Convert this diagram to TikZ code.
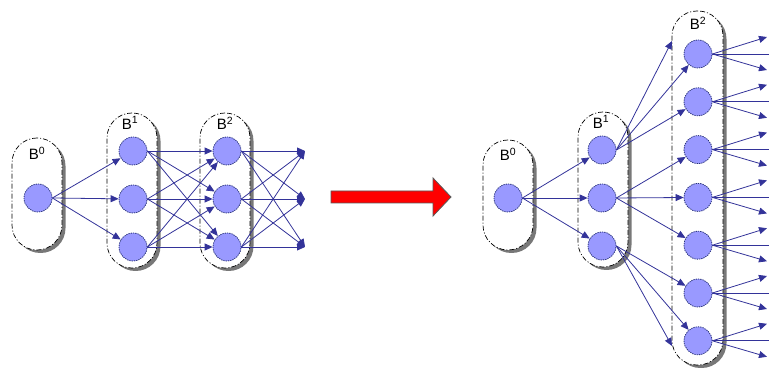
\documentclass[tikz,border=0pt]{standalone}
\usepackage{fontspec}
\setmainfont{Liberation Sans}
\usetikzlibrary{arrows.meta,shadows}
\definecolor{edgeblue}{RGB}{51,51,153}
\definecolor{nodefill}{RGB}{153,153,255}
\definecolor{nodeline}{RGB}{40,50,120}
\definecolor{shadowgray}{RGB}{120,120,120}
\begin{document}
\begin{tikzpicture}[x=1pt,y=-1pt,
  layerbox/.style={draw=black, line width=0.7pt,
    dash pattern=on 5pt off 2pt on 1pt off 2pt,
    fill=white, rounded corners=24.9pt, minimum width=50pt, inner sep=0pt,
    drop shadow={shadow xshift=3.5pt, shadow yshift=-3pt, fill=shadowgray, opacity=1}},
  unit/.style={circle, draw=nodeline, dash pattern=on 1.3pt off 1pt, line width=0.8pt,
    fill=nodefill, minimum size=28pt, inner sep=0pt},
  link/.style={draw=edgeblue, line width=0.8pt, -{Triangle[length=8pt,width=7pt]}},
  lbl/.style={font=\fontsize{15}{15}\selectfont, inner sep=0pt}
]
\useasboundingbox (0,0) rectangle (769,371);
\clip (0,0) rectangle (769,371);

% ---------- left network: three layers ----------
\node[layerbox, minimum height=112pt] (boxA0) at (37,194) {};
\node[layerbox, minimum height=155pt] (boxA1) at (132,190.5) {};
\node[layerbox, minimum height=155pt] (boxA2) at (225,190.5) {};
\node[lbl] (lA0) at (37,153) {B\textsuperscript{0}};
\node[lbl] (lA1) at (130,123) {B\textsuperscript{1}};
\node[lbl] (lA2) at (225,123) {B\textsuperscript{2}};

\node[unit] (A0) at (38,198) {};
\foreach \i/\y in {1/151,2/199,3/247} {
  \node[unit] (A1\i) at (133,\y) {};
  \node[unit] (A2\i) at (227,\y) {};
  \coordinate (Aout\i) at (305,\y);
}
\foreach \i in {1,2,3} {
  \draw[link] (A0.east) -- (A1\i);
  \foreach \j in {1,2,3} {
    \draw[link] (A1\i.east) -- (A2\j);
    \draw[link] (A2\i.east) -- (Aout\j);
  }
}

% ---------- transition arrow ----------
\coordinate (rA) at (331,191);
\coordinate (rB) at (433,191);
\coordinate (rC) at (433,178);
\coordinate (rTip) at (451,197);
\coordinate (rD) at (433,216);
\coordinate (rE) at (433,203);
\coordinate (rF) at (331,203);
\filldraw[fill=red, draw=black!65, line width=0.8pt, line join=miter]
  (rA) -- (rB) -- (rC) -- (rTip) -- (rD) -- (rE) -- (rF) -- cycle;

% ---------- right network: widened second layer ----------
\node[layerbox, minimum height=110pt] (boxB0) at (508,195) {};
\node[layerbox, minimum height=155pt] (boxB1) at (603,189.5) {};
\node[layerbox, minimum width=51pt, minimum height=354pt] (boxB2) at (697.5,188) {};
\node[lbl] (lB0) at (508,154) {B\textsuperscript{0}};
\node[lbl] (lB1) at (601,122) {B\textsuperscript{1}};
\node[lbl] (lB2) at (698,23) {B\textsuperscript{2}};

\node[unit] (B0) at (508,198) {};
\foreach \i/\y in {1/150,2/198,3/246}
  \node[unit] (B1\i) at (602,\y) {};
\foreach \i in {1,...,7} {
  \pgfmathsetmacro{\yy}{54+47.8*(\i-1)}
  \node[unit] (B2\i) at (698,\yy) {};
  \coordinate (BoU\i) at (767,\yy-17);
  \coordinate (BoM\i) at (778,\yy);
  \coordinate (BoD\i) at (767,\yy+16);
}
\coordinate (Btop) at (672,41);
\coordinate (Bbot) at (672,346);

\foreach \i in {1,2,3}
  \draw[link] (B0.east) -- (B1\i);
\draw[link] (B11.east) -- (Btop);
\draw[link] (B11.east) -- (B21);
\draw[link] (B11.east) -- (B22);
\draw[link] (B12.east) -- (B23);
\draw[link] (B12.east) -- (B24);
\draw[link] (B12.east) -- (B25);
\draw[link] (B13.east) -- (B26);
\draw[link] (B13.east) -- (B27);
\draw[link] (B13.east) -- (Bbot);
\foreach \i in {1,...,7} {
  \draw[link] (B2\i.east) -- (BoU\i);
  \draw[link] (B2\i.east) -- (BoM\i);
  \draw[link] (B2\i.east) -- (BoD\i);
}
\end{tikzpicture}
\end{document}
